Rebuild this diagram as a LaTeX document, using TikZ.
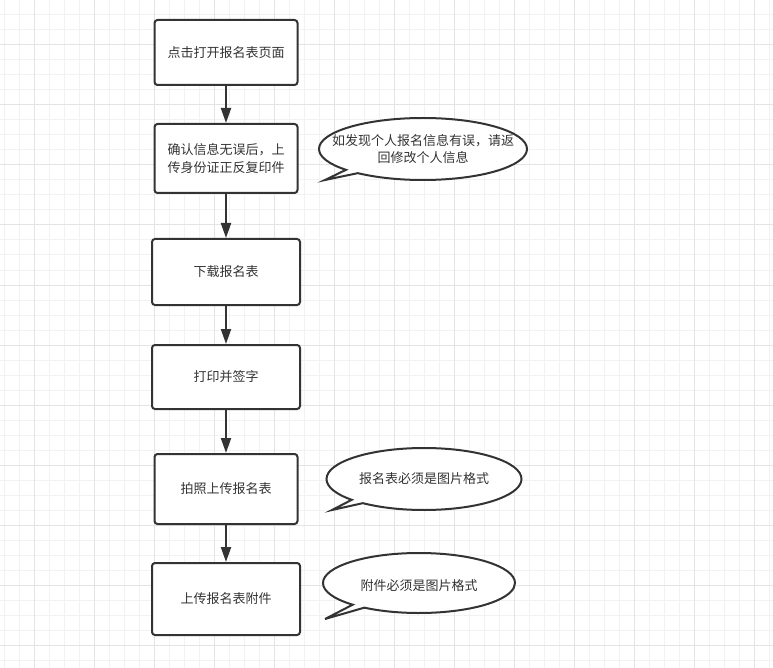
\documentclass[tikz,border=0pt]{standalone}
\usepackage{fontspec}
\newfontfamily\cjk{Noto Sans CJK SC}
\usetikzlibrary{arrows.meta,shapes.callouts}
\definecolor{linec}{HTML}{333333}
\definecolor{gridminor}{HTML}{F2F2F2}
\definecolor{gridmajor}{HTML}{E4E4E4}

\tikzset{
    stepbox/.style={draw=linec, line width=2pt, rounded corners=3pt, fill=white,
        font=\cjk\fontsize{13}{17.5}\selectfont, text=linec, align=center, inner sep=0pt},
    bubble/.style={ellipse callout, draw=linec, line width=2pt, fill=white, inner sep=0pt,
        callout pointer arc=9},
    note/.style={font=\cjk\fontsize{13}{17.5}\selectfont, text=linec, align=center},
    flow/.style={draw=linec, line width=2pt, -{Triangle[length=15pt,width=10pt]}}
}

\begin{document}
\begin{tikzpicture}[x=1pt,y=-1pt]
    \useasboundingbox (0,0) rectangle (773,668);

    % 背景网格
    \foreach \i in {0,...,51} \draw[gridminor, line width=1pt] (4+15*\i,0) -- (4+15*\i,668);
    \foreach \j in {0,...,44} \draw[gridminor, line width=1pt] (0,15*\j) -- (773,15*\j);
    \foreach \i in {0,...,12} \draw[gridmajor, line width=1pt] (34+60*\i,0) -- (34+60*\i,668);
    \foreach \j in {0,...,10} \draw[gridmajor, line width=1pt] (0,45+60*\j) -- (773,45+60*\j);

    % 流程步骤
    \node[stepbox, minimum width=143, minimum height=65] (s1) at (226,52.5) {点击打开报名表页面};
    \node[stepbox, minimum width=143, minimum height=69] (s2) at (226,158.5) {确认信息无误后，上\\传身份证正反复印件};
    \node[stepbox, minimum width=148, minimum height=66] (s3) at (226,272) {下载报名表};
    \node[stepbox, minimum width=148, minimum height=64] (s4) at (226,377) {打印并签字};
    \node[stepbox, minimum width=143, minimum height=70] (s5) at (226,489) {拍照上传报名表};
    \node[stepbox, minimum width=148, minimum height=72] (s6) at (226,599) {上传报名表附件};

    \draw[flow] (s1) -- (s2);
    \draw[flow] (s2) -- (s3);
    \draw[flow] (s3) -- (s4);
    \draw[flow] (s4) -- (s5);
    \draw[flow] (s5) -- (s6);

    % 提示气泡
    \node[bubble, minimum width=208, minimum height=62, callout absolute pointer={(325,180)}] (c1) at (423,149) {};
    \node[note] (t1) at (c1.center) {如发现个人报名信息有误，请返\\回修改个人信息};

    \node[bubble, minimum width=195, minimum height=62, callout absolute pointer={(332,510)}] (c2) at (424,479) {};
    \node[note] (t2) at (c2.center) {报名表必须是图片格式};

    \node[bubble, minimum width=192, minimum height=60, callout absolute pointer={(325,619)}] (c3) at (419,583) {};
    \node[note] (t3) at (419,586) {附件必须是图片格式};
\end{tikzpicture}
\end{document}
